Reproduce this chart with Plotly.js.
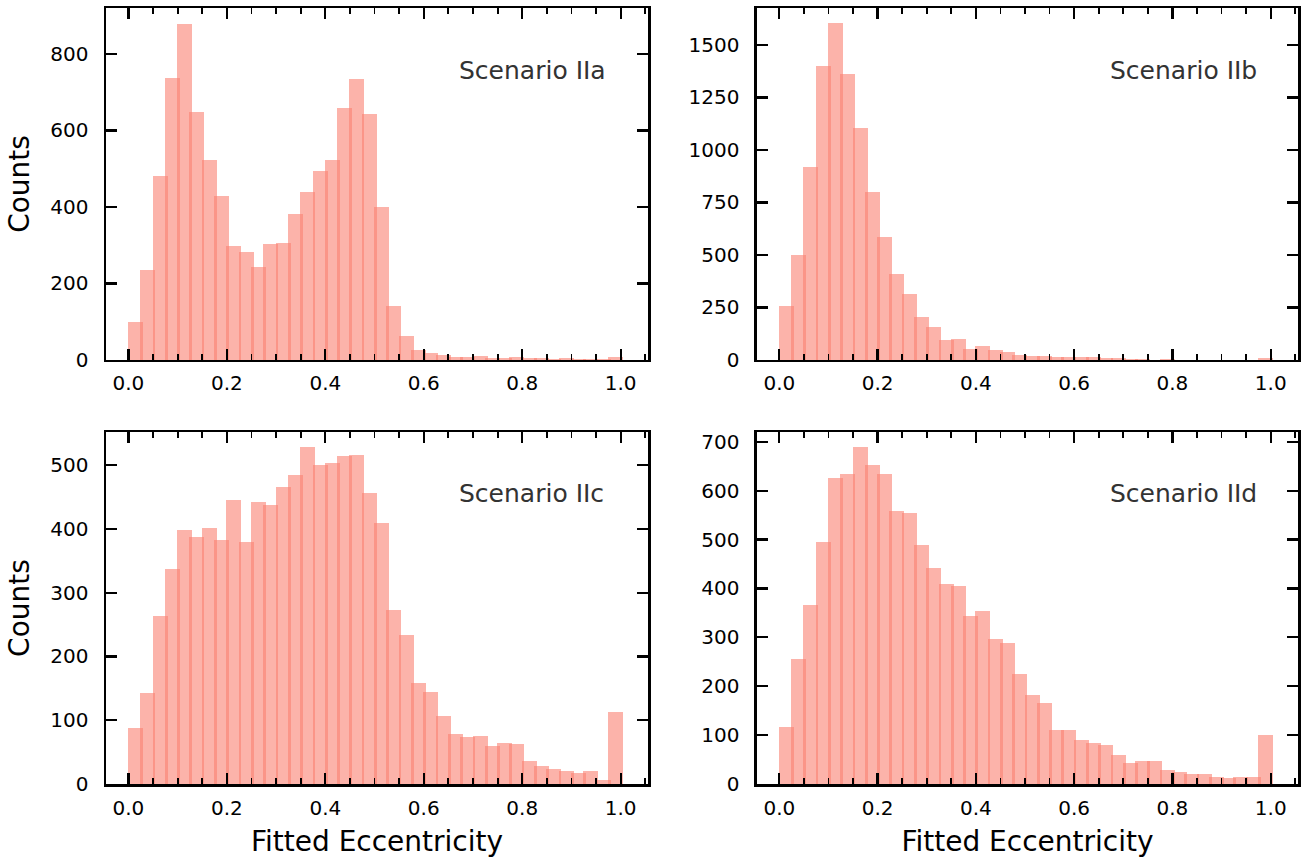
<!DOCTYPE html>
<html>
<head>
<meta charset="utf-8">
<script src="https://cdn.plot.ly/plotly-3.0.1.min.js"></script>
<style>html,body{margin:0;padding:0;background:#fff;}#chart{width:1306px;height:858px;}</style>
</head>
<body>
<div id="chart"></div>
<script>
// Bin left edges: 40 bins of width 0.025 on [0, 1]
const binLeft = Array.from({length: 40}, (_, k) => +(k * 0.025).toFixed(3));

const scenarioLabels = ["Scenario IIa", "Scenario IIb", "Scenario IIc", "Scenario IId"];

const countsIIa = [100, 235, 482, 736, 878, 647, 522, 429, 298, 283,
                   244, 304, 306, 382, 440, 494, 523, 658, 735, 642,
                   400, 141, 63, 26, 18, 13, 9, 8, 10, 5,
                   5, 8, 4, 5, 3, 4, 3, 3, 3, 8];

const countsIIb = [258, 499, 921, 1398, 1606, 1361, 1107, 801, 585, 410,
                   315, 204, 159, 95, 98, 52, 67, 46, 40, 25,
                   21, 21, 14, 16, 13, 14, 11, 8, 4, 3,
                   2, 3, 1, 1, 1, 0, 1, 0, 1, 8];

const countsIIc = [88, 143, 264, 337, 398, 388, 402, 382, 446, 379,
                   443, 437, 465, 484, 528, 500, 504, 514, 516, 457,
                   410, 273, 233, 159, 145, 107, 79, 74, 76, 60,
                   65, 62, 36, 29, 24, 20, 18, 20, 7, 113];

const countsIId = [116, 255, 366, 495, 625, 634, 689, 653, 634, 558,
                   555, 488, 441, 410, 404, 343, 353, 297, 289, 226,
                   183, 165, 111, 110, 91, 83, 79, 60, 42, 48,
                   47, 29, 25, 20, 20, 14, 12, 15, 15, 101];

const xTickVals = [0, 0.2, 0.4, 0.6, 0.8, 1.0];
const xTickText = ["0.0", "0.2", "0.4", "0.6", "0.8", "1.0"];

const allCounts = [countsIIa, countsIIb, countsIIc, countsIId];
const axisIds = [["x", "y"], ["x2", "y2"], ["x3", "y3"], ["x4", "y4"]];

const barColor = "rgba(250,128,114,0.6)";
const FONT = "DejaVu Sans, Liberation Sans, sans-serif";

const traces = allCounts.map((c, i) => ({
  type: "bar",
  x: binLeft,
  y: c,
  offset: -0.001,
  width: 0.0305,
  xaxis: axisIds[i][0],
  yaxis: axisIds[i][1],
  marker: {color: barColor, line: {width: 0}},
  showlegend: false,
  hoverinfo: "x+y"
}));

function xAxis(domain, anchor, showTitle) {
  const ax = {
    domain: domain, anchor: anchor,
    range: [-0.0455, 1.0555],
    tickmode: "array", tickvals: xTickVals, ticktext: xTickText,
    ticks: "inside", ticklen: 11, tickwidth: 2.2, tickcolor: "#000",
    minor: {ticks: "inside", dtick: 0.05, tick0: 0, ticklen: 6, tickwidth: 1.8, tickcolor: "#000"},
    showline: true, linecolor: "#000", linewidth: 2.5, mirror: "allticks",
    showgrid: false, zeroline: false,
    tickfont: {family: FONT, size: 20, color: "#000"},
    ticklabelstandoff: 4
  };
  if (showTitle) {
    ax.title = {text: "Fitted Eccentricity", font: {family: FONT, size: 28, color: "#000"}, standoff: 16};
  }
  return ax;
}

function yAxis(domain, anchor, range, dtick, showTitle) {
  const ax = {
    domain: domain, anchor: anchor,
    range: range, tick0: 0, dtick: dtick,
    ticks: "inside", ticklen: 11, tickwidth: 2.2, tickcolor: "#000",
    showline: true, linecolor: "#000", linewidth: 2.5, mirror: "allticks",
    showgrid: false, zeroline: false,
    tickfont: {family: FONT, size: 20, color: "#000"},
    ticklabelstandoff: 11
  };
  if (showTitle) {
    ax.title = {text: "Counts", font: {family: FONT, size: 28, color: "#000"}, standoff: 13};
  }
  return ax;
}

const xL = [0, 0.4547], xR = [0.5461, 1];
const yT = [0.5464, 1], yB = [0, 0.4536];

const annotations = scenarioLabels.map((t, i) => ({
  text: t,
  xref: axisIds[i][0] + " domain",
  yref: axisIds[i][1] + " domain",
  x: 0.648, y: i < 2 ? 0.822 : 0.826,
  xanchor: "left", yanchor: "middle",
  showarrow: false,
  font: {family: FONT, size: 25, color: "#333333"}
}));

const layout = {
  width: 1306, height: 858, autosize: false,
  margin: {l: 106, r: 8, t: 8, b: 74},
  paper_bgcolor: "#fff", plot_bgcolor: "#fff",
  bargap: 0,
  barmode: "overlay",
  xaxis: xAxis(xL, "y", false),
  yaxis: yAxis(yT, "x", [0, 920], 200, true),
  xaxis2: xAxis(xR, "y2", false),
  yaxis2: yAxis(yT, "x2", [0, 1676], 250, false),
  xaxis3: xAxis(xL, "y3", true),
  yaxis3: yAxis(yB, "x3", [0, 552], 100, true),
  xaxis4: xAxis(xR, "y4", true),
  yaxis4: yAxis(yB, "x4", [0, 720], 100, false),
  annotations: annotations
};

Plotly.newPlot("chart", traces, layout, {displayModeBar: false, staticPlot: true});
</script>
</body>
</html>
